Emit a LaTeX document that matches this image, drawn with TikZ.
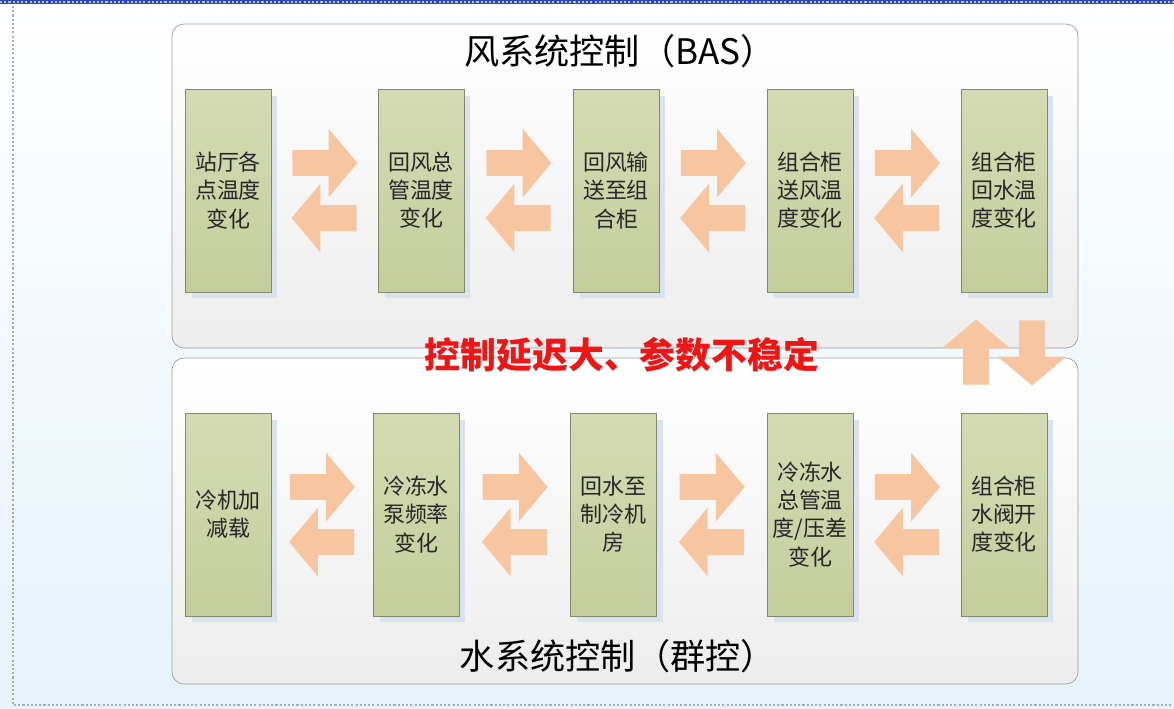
\documentclass[tikz,border=0pt]{standalone}
\usepackage{fontspec}
\setmainfont{Noto Sans CJK SC}
\usetikzlibrary{shapes.arrows,shadows,calc}

\definecolor{boxtop}{RGB}{212,219,180}
\definecolor{boxbot}{RGB}{196,206,155}
\definecolor{boxline}{RGB}{130,136,112}
\definecolor{boxshade}{RGB}{216,227,239}
\definecolor{peach}{RGB}{247,198,160}
\definecolor{slidebot}{RGB}{229,243,251}
\definecolor{panelbot}{RGB}{237,237,237}
\definecolor{dotblue}{RGB}{40,70,200}
\definecolor{alarm}{RGB}{240,20,20}

\tikzset{
  stepbox/.style={draw=boxline, top color=boxtop, bottom color=boxbot,
    minimum width=1.72cm, minimum height=4.06cm, inner sep=0pt, align=center,
    font=\fontsize{12.5}{16}\selectfont, text=black!85,
    drop shadow={shadow xshift=0.13cm, shadow yshift=-0.13cm, fill=boxshade, opacity=1}},
  flow/.style={single arrow, fill=peach, draw=none, minimum height=1.3cm,
    inner sep=0.25cm, single arrow head extend=0.43cm, single arrow tip angle=100},
  panel/.style={draw=gray!75, rounded corners=0.24cm, top color=white, bottom color=panelbot},
  dots/.style={gray!65, line width=1.4pt, dash pattern=on 1.2pt off 1.2pt}
}

\begin{document}
\begin{tikzpicture}[x=0.02cm, y=-0.02cm]
\useasboundingbox (0,0) rectangle (1174,708);
\shade[top color=white, bottom color=slidebot] (0,0) rectangle (1174,708);
\draw[dotblue, line width=2pt] (0,2) -- (1174,2);
\draw[dots, gray!45, line width=1.2pt] (0,2) -- (1174,2);
\draw[dots] (13,6) -- (13,705) -- (1174,705);

% two panels
\draw[panel] (172,24) rectangle (1078,348);
\draw[panel] (172,358) rectangle (1078,684);

\node (fengti) at (620,51) {\fontsize{20}{22}\selectfont 风系统控制（BAS）};
\node (shuiti) at (618,656) {\fontsize{20}{22}\selectfont 水系统控制（群控）};

% air side
\node[stepbox] (feng1) at (228,190.5) {站厅各\\点温度\\变化};
\node[stepbox] (feng2) at (421,190.5) {回风总\\管温度\\变化};
\node[stepbox] (feng3) at (616,190.5) {回风输\\送至组\\合柜};
\node[stepbox] (feng4) at (810,190.5) {组合柜\\送风温\\度变化};
\node[stepbox] (feng5) at (1004,190.5) {组合柜\\回水温\\度变化};

% water side
\node[stepbox] (shui1) at (228,514.5) {冷机加\\减载};
\node[stepbox] (shui2) at (416,514.5) {冷冻水\\泵频率\\变化};
\node[stepbox] (shui3) at (613.5,514.5) {回水至\\制冷机\\房};
\node[stepbox] (shui4) at (810,514.5) {冷冻水\\总管温\\度/压差\\变化};
\node[stepbox] (shui5) at (1004,514.5) {组合柜\\水阀开\\度变化};

% arrow centre sits 5 back from the middle of the shape
\node[flow] (fr1) at ($(feng1.east)!.5!(feng2.west)+(-5,-27.5)$) {};
\node[flow, shape border rotate=180] (fl1) at ($(feng1.east)!.5!(feng2.west)+(5,27.5)$) {};
\node[flow] (fr2) at ($(feng2.east)!.5!(feng3.west)+(-5,-27.5)$) {};
\node[flow, shape border rotate=180] (fl2) at ($(feng2.east)!.5!(feng3.west)+(5,27.5)$) {};
\node[flow] (fr3) at ($(feng3.east)!.5!(feng4.west)+(-5,-27.5)$) {};
\node[flow, shape border rotate=180] (fl3) at ($(feng3.east)!.5!(feng4.west)+(5,27.5)$) {};
\node[flow] (fr4) at ($(feng4.east)!.5!(feng5.west)+(-5,-27.5)$) {};
\node[flow, shape border rotate=180] (fl4) at ($(feng4.east)!.5!(feng5.west)+(5,27.5)$) {};

\node[flow] (sr1) at ($(shui1.east)!.5!(shui2.west)+(-5,-27.5)$) {};
\node[flow, shape border rotate=180] (sl1) at ($(shui1.east)!.5!(shui2.west)+(5,27.5)$) {};
\node[flow] (sr2) at ($(shui2.east)!.5!(shui3.west)+(-5,-27.5)$) {};
\node[flow, shape border rotate=180] (sl2) at ($(shui2.east)!.5!(shui3.west)+(5,27.5)$) {};
\node[flow] (sr3) at ($(shui3.east)!.5!(shui4.west)+(-5,-27.5)$) {};
\node[flow, shape border rotate=180] (sl3) at ($(shui3.east)!.5!(shui4.west)+(5,27.5)$) {};
\node[flow] (sr4) at ($(shui4.east)!.5!(shui5.west)+(-5,-27.5)$) {};
\node[flow, shape border rotate=180] (sl4) at ($(shui4.east)!.5!(shui5.west)+(5,27.5)$) {};

% between the panels
\node[flow, shape border rotate=90] (up) at ($(feng5.south)!.5!(shui5.north)+(-28,5)$) {};
\node[flow, shape border rotate=270] (down) at ($(feng5.south)!.5!(shui5.north)+(28,-5)$) {};

\node[text=alarm, font=\fontsize{20.4}{22}\selectfont\bfseries] (delay) at (622,355) {控制延迟大、参数不稳定};
\end{tikzpicture}
\end{document}
